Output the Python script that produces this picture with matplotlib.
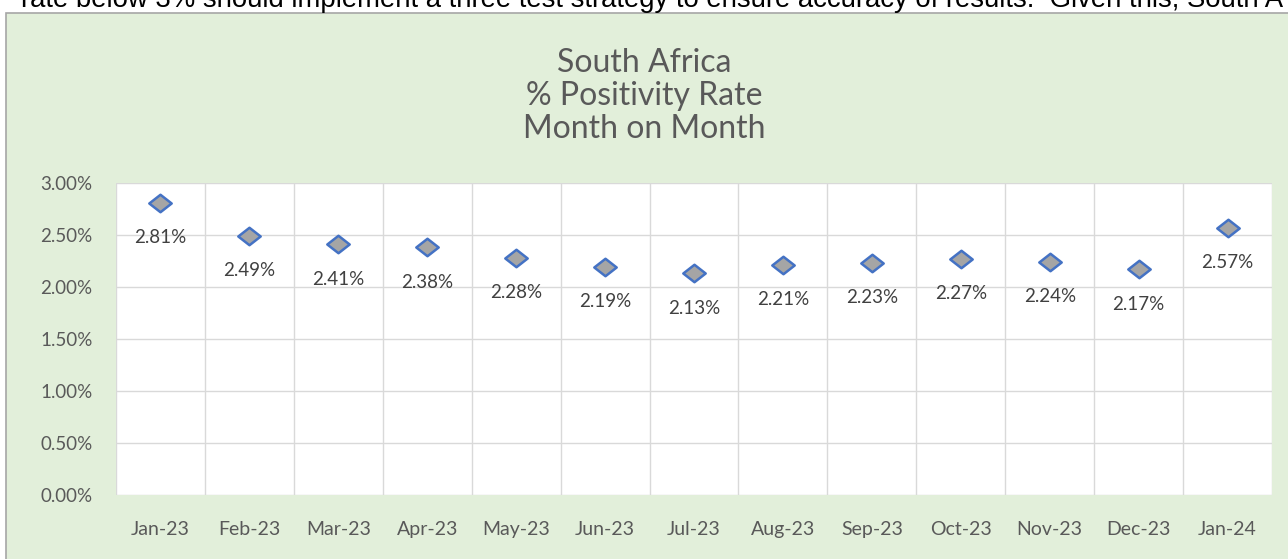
import numpy as np
import matplotlib.pyplot as plt
from matplotlib.patches import Rectangle
from matplotlib.path import Path
from matplotlib.ticker import FuncFormatter, MultipleLocator

months = ["Jan-23", "Feb-23", "Mar-23", "Apr-23", "May-23", "Jun-23", "Jul-23",
          "Aug-23", "Sep-23", "Oct-23", "Nov-23", "Dec-23", "Jan-24"]
positivity = [2.81, 2.49, 2.41, 2.38, 2.28, 2.19, 2.13, 2.21, 2.23, 2.27, 2.24, 2.17, 2.57]

plt.rcParams['font.family'] = ['Lato', 'DejaVu Sans']
grey_text = '#595959'

fig = plt.figure(figsize=(12.88, 5.59), dpi=100)

# cut-off line of document text above the chart
fig.text(0.016, 1 - 7 / 559, "rate below 3% should implement a three test strategy to ensure accuracy of results.  Given this, South A",
         fontsize=19.8, family=['Liberation Sans', 'DejaVu Sans'], color='black', va='baseline')

# chart frame
fig.patches.append(Rectangle((6 / 1288, -0.01), 1.0, 1 - 13 / 559 + 0.01, transform=fig.transFigure,
                             facecolor='#E2EFDA', edgecolor='#A6A6A6', linewidth=1.2, zorder=-5))

ax = fig.add_axes([116 / 1288, 1 - 495 / 559, (1272 - 116) / 1288, (495 - 183) / 559])
ax.set_zorder(2)
ax.set_facecolor('white')

# slightly flattened diamond like the Excel marker
diamond = Path([(-1, 0), (0, 0.78), (1, 0), (0, -0.78), (-1, 0)],
               [Path.MOVETO, Path.LINETO, Path.LINETO, Path.LINETO, Path.CLOSEPOLY])

x = np.arange(len(months))
ax.scatter(x, positivity, marker=diamond, s=260, facecolor='#A5A5A5', edgecolor='#4472C4',
           linewidth=1.8, zorder=3)
for xi, v in zip(x, positivity):
    ax.annotate(f"{v:.2f}%", (xi, v), xytext=(0, -25), textcoords='offset points',
                ha='center', va='center', fontsize=13.5, color='#404040')

ax.set_xlim(-0.5, len(months) - 0.5)
ax.set_ylim(0, 3.0)
ax.yaxis.set_major_locator(MultipleLocator(0.5))
ax.yaxis.set_major_formatter(FuncFormatter(lambda v, p: f"{v:.2f}%"))
ax.set_xticks(x)
ax.set_xticklabels(months)
ax.set_xticks(np.arange(-0.5, len(months), 1.0), minor=True)

ax.grid(axis='y', which='major', color='#D9D9D9', linewidth=1)
ax.grid(axis='x', which='minor', color='#D9D9D9', linewidth=1)
ax.set_axisbelow(True)
for s in ax.spines.values():
    s.set_visible(False)
ax.tick_params(axis='both', which='both', length=0, colors=grey_text)
ax.tick_params(axis='y', pad=17, labelsize=13.5)
ax.tick_params(axis='x', pad=19, labelsize=14)

fig.text(0.5, 1 - 96 / 559, "South Africa\n% Positivity Rate\nMonth on Month", ha='center', va='center',
         fontsize=23, color=grey_text, linespacing=1.12)

fig.savefig('out.png', dpi=100)
